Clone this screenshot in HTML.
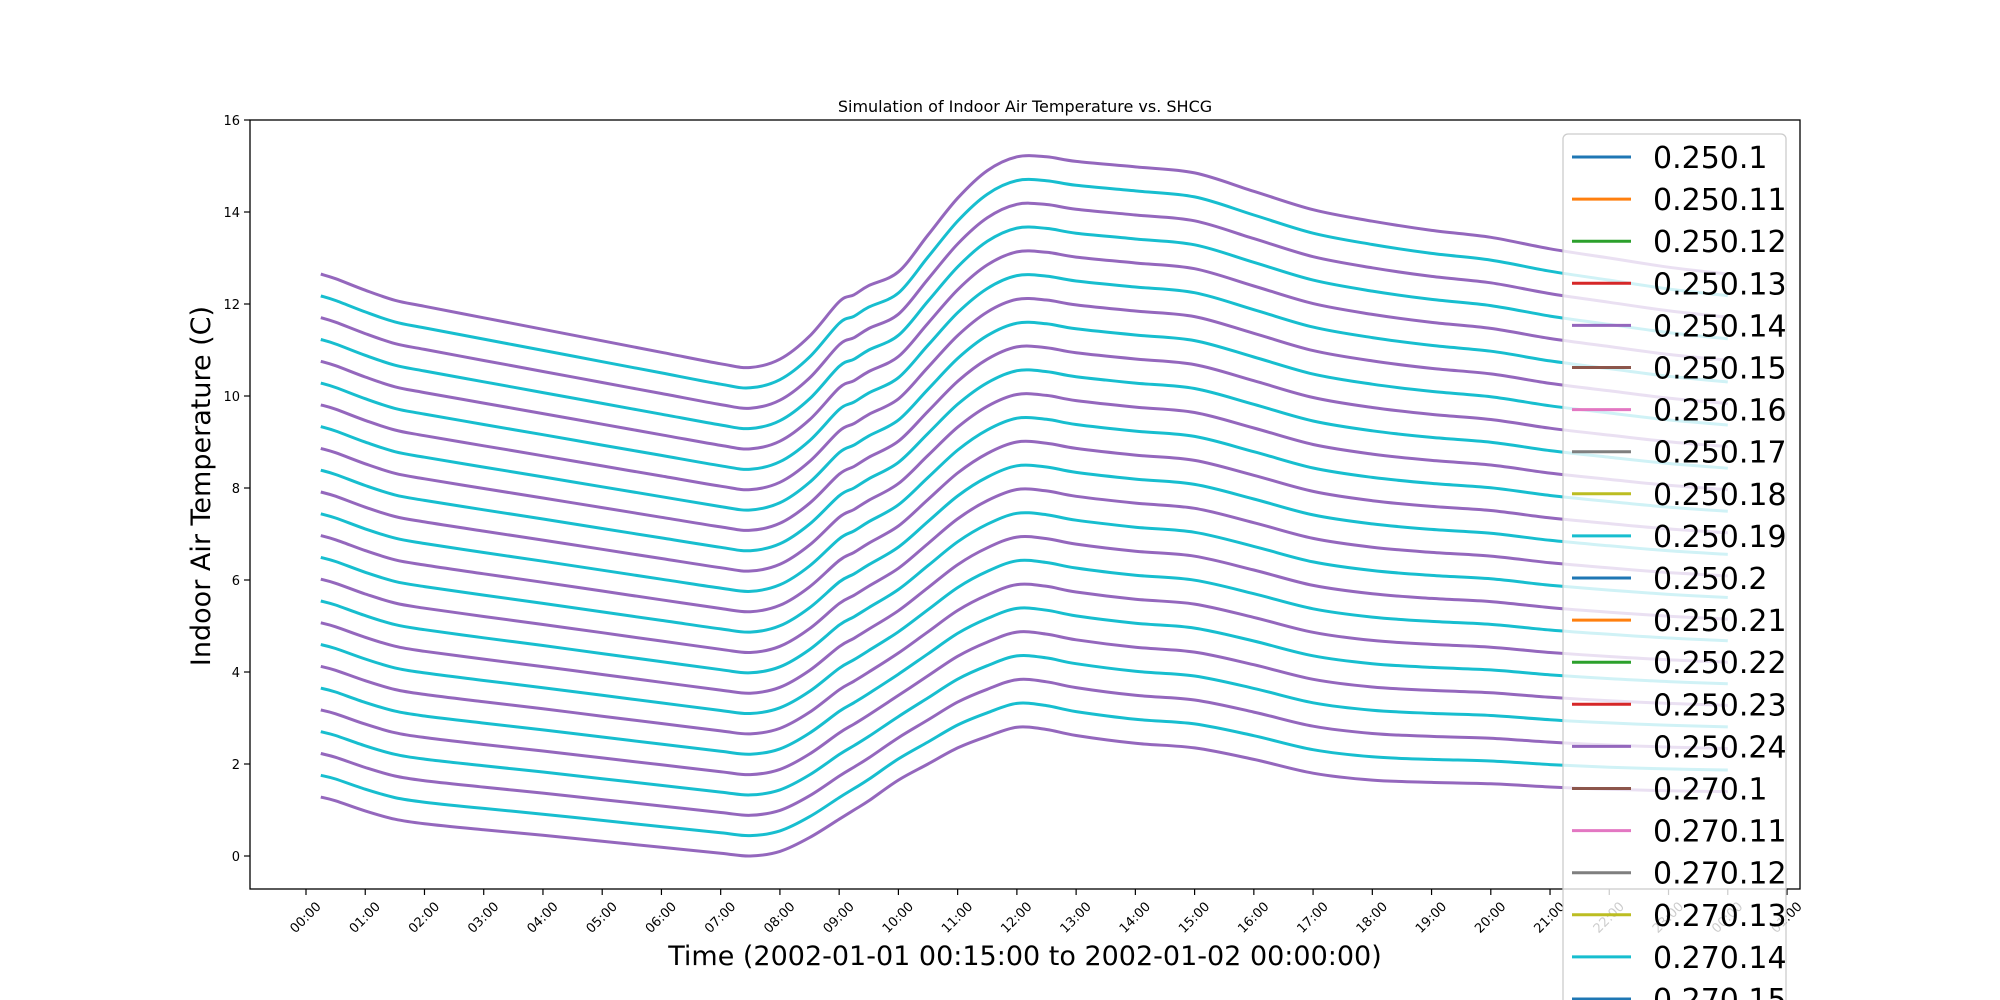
<!DOCTYPE html>
<html><head><meta charset="utf-8"><style>
html,body{margin:0;padding:0;background:#fff;width:2000px;height:1000px;overflow:hidden;}
svg{display:block;font-family:"DejaVu Sans","Liberation Sans",sans-serif;overflow:hidden;}
</style></head><body>
<svg id="chart" width="2000" height="1000" viewBox="0 0 2000 1000" xmlns="http://www.w3.org/2000/svg">
<rect width="2000" height="1000" fill="#fff"/>
<text x="1025" y="112" font-size="16" text-anchor="middle">Simulation of Indoor Air Temperature vs. SHCG</text>
<g id="plot"></g>
<rect x="250" y="120" width="1550" height="769" fill="none" stroke="#000" stroke-width="1.3"/>
<g id="axes"></g>
<text x="1025" y="965" font-size="27" text-anchor="middle">Time (2002-01-01 00:15:00 to 2002-01-02 00:00:00)</text>
<text transform="translate(210,486) rotate(-90)" font-size="27" text-anchor="middle">Indoor Air Temperature (C)</text>
<g id="legend"></g>
</svg>
<script>
// hours from 00:00
const hours = [0.25,0.5,1,1.5,2,3,4,5,6,7,7.5,8,8.5,9,9.25,9.5,10,10.5,11,11.5,12,12.5,13,14,15,16,17,18,19,20,21,22,23,24];
const topSeries = [12.65,12.55,12.3,12.08,11.95,11.7,11.45,11.2,10.95,10.7,10.62,10.8,11.3,12.05,12.2,12.4,12.7,13.5,14.3,14.9,15.2,15.2,15.1,14.98,14.85,14.45,14.05,13.8,13.6,13.45,13.2,13.0,12.8,12.65];
const bottomSeries = [1.28,1.2,0.98,0.8,0.7,0.57,0.45,0.32,0.19,0.06,0.0,0.1,0.4,0.8,1.0,1.2,1.65,2.0,2.35,2.6,2.8,2.75,2.62,2.45,2.35,2.1,1.8,1.65,1.6,1.57,1.5,1.45,1.42,1.4];
const seriesCount = 25;
const yTicks = [0,2,4,6,8,10,12,14,16];
const xTickLabels = ["00:00","01:00","02:00","03:00","04:00","05:00","06:00","07:00","08:00","09:00","10:00","11:00","12:00","13:00","14:00","15:00","16:00","17:00","18:00","19:00","20:00","21:00","22:00","23:00","00:00","01:00"];
const legendLabels = ["0.250.1","0.250.11","0.250.12","0.250.13","0.250.14","0.250.15","0.250.16","0.250.17","0.250.18","0.250.19","0.250.2","0.250.21","0.250.22","0.250.23","0.250.24","0.270.1","0.270.11","0.270.12","0.270.13","0.270.14","0.270.15","0.270.16"];
const tab10 = ["#1f77b4","#ff7f0e","#2ca02c","#d62728","#9467bd","#8c564b","#e377c2","#7f7f7f","#bcbd22","#17becf"];

const NS="http://www.w3.org/2000/svg";
const X0=306, XH=59.24;
const Y0=856, YU=46;
const xs=h=>X0+h*XH;
const ys=v=>Y0-v*YU;
function mk(tag,attrs,parent){const e=document.createElementNS(NS,tag);for(const k in attrs)e.setAttribute(k,attrs[k]);parent.appendChild(e);return e;}
function smooth(pts){
  let d="M"+pts[0][0].toFixed(1)+","+pts[0][1].toFixed(1);
  for(let i=0;i<pts.length-1;i++){
    const p0=pts[Math.max(0,i-1)],p1=pts[i],p2=pts[i+1],p3=pts[Math.min(pts.length-1,i+2)];
    const c1x=p1[0]+(p2[0]-p0[0])/6,c1y=p1[1]+(p2[1]-p0[1])/6;
    const c2x=p2[0]-(p3[0]-p1[0])/6,c2y=p2[1]-(p3[1]-p1[1])/6;
    d+=`C${c1x.toFixed(1)},${c1y.toFixed(1)} ${c2x.toFixed(1)},${c2y.toFixed(1)} ${p2[0].toFixed(1)},${p2[1].toFixed(1)}`;
  }
  return d;
}

const plot=document.getElementById('plot');
for(let k=seriesCount-1;k>=0;k--){
  const w=k/(seriesCount-1);
  const pts=hours.map((h,i)=>[xs(h),ys(bottomSeries[i]+(topSeries[i]-bottomSeries[i])*w)]);
  const p=mk('path',{d:smooth(pts),fill:"none",stroke:(k%2===0)?"#9467bd":"#17becf","stroke-width":"3","stroke-linejoin":"round"},plot);
  
  
}

const axes=document.getElementById('axes');
yTicks.forEach(t=>{
  const y=ys(t);
  const l=mk('line',{x1:244,x2:250,y1:y,y2:y,stroke:"#000","stroke-width":"1.2"},axes);
  
  
  const tx=mk('text',{x:240,y:y+5,"font-size":"13","text-anchor":"end"},axes);
  tx.textContent=t;
  
  
});
xTickLabels.forEach((lab,i)=>{
  const x=xs(i);
  const l=mk('line',{x1:x,x2:x,y1:889,y2:895,stroke:"#000","stroke-width":"1.2"},axes);
  
  
  const tx=mk('text',{transform:`translate(${x},918) rotate(-45)`,"font-size":"13","text-anchor":"middle","dominant-baseline":"middle"},axes);
  tx.textContent=lab;
  
  
});

const lg=document.getElementById('legend');
const box=mk('rect',{x:1563,y:134,width:223,height:880,rx:5,fill:"#fff","fill-opacity":"0.8",stroke:"#ccc","stroke-width":"1.3"},lg);


legendLabels.forEach((lab,i)=>{
  const y=157+i*42.1;
  const l=mk('line',{x1:1572,x2:1631,y1:y,y2:y,stroke:tab10[i%10],"stroke-width":"3"},lg);
  
  
  const t=mk('text',{x:1653,y:y+11,"font-size":"30"},lg);
  t.textContent=lab;
  
  
});
</script>
</body></html>
